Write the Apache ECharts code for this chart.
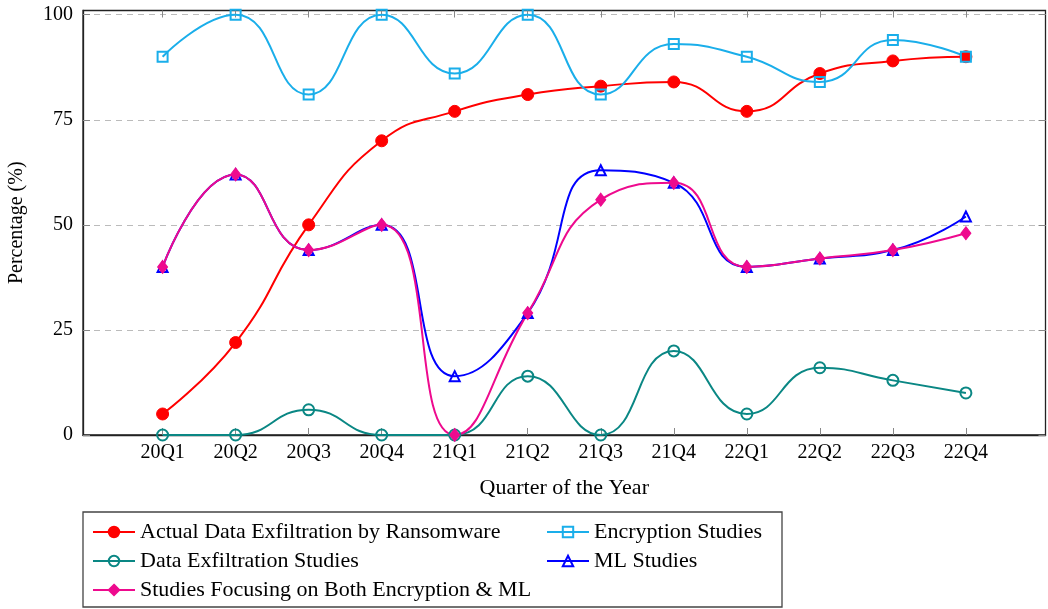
<!DOCTYPE html>
<html>
<head>
<meta charset="utf-8">
<script src="https://cdn.jsdelivr.net/npm/echarts@6/dist/echarts.min.js"></script>
<style>
  html, body { margin: 0; padding: 0; background: #fff; }
  #chart { width: 1048px; height: 609px; }
</style>
</head>
<body>
<div id="chart"></div>
<script>
// Quarters on the horizontal axis
const quarters = ['20Q1', '20Q2', '20Q3', '20Q4', '21Q1', '21Q2', '21Q3', '21Q4', '22Q1', '22Q2', '22Q3', '22Q4'];
const yTicks = [0, 25, 50, 75, 100];

// Percentages per quarter
const actualExfiltration = [5, 22, 50, 70, 77, 81, 83, 84, 77, 86, 89, 90];
const encryptionStudies  = [90, 100, 81, 100, 86, 100, 81, 93, 90, 84, 94, 90];
const exfiltrationStudies = [0, 0, 6, 0, 0, 14, 0, 20, 5, 16, 13, 10];
const mlStudies          = [40, 62, 44, 50, 14, 29, 63, 60, 40, 42, 44, 52];
const bothStudies        = [40, 62, 44, 50, 0, 29, 56, 60, 40, 42, 44, 48];

const FONT = '"Liberation Serif", "DejaVu Serif", serif';
const tickIdx = quarters.map((q, i) => i);

function pairs(arr) { return arr.map((v, i) => [i, v]); }

function lineSeries(name, data, color, symbol, size, filled) {
  return {
    name: name,
    type: 'line',
    data: pairs(data),
    smooth: 0.5,
    symbol: symbol,
    symbolSize: size,
    lineStyle: { color: color, width: 2 },
    itemStyle: filled
      ? { color: color, borderColor: color, borderWidth: 1 }
      : { color: 'rgba(255,255,255,0)', borderColor: color, borderWidth: 2 },
    emphasis: { disabled: true },
    animation: false
  };
}

const chart = echarts.init(document.getElementById('chart'), null, { renderer: 'canvas' });

const sharedX = { type: 'value', min: -1.09, max: 12.09, gridIndex: 0 };
const sharedY = { type: 'value', min: 0, max: 101, gridIndex: 0 };
const tickStyle = { color: '#888', width: 1 };

chart.setOption({
  animation: false,
  grid: {
    left: 83, right: 2.5, top: 10.5, bottom: 174,
    outerBoundsMode: 'none',
    containLabel: false,
    show: true, borderColor: '#222', borderWidth: 1.3, backgroundColor: 'transparent'
  },
  xAxis: [
    Object.assign({}, sharedX, {
      position: 'bottom',
      name: 'Quarter of the Year',
      nameLocation: 'middle',
      nameGap: 42,
      nameTextStyle: { fontFamily: FONT, fontSize: 22, color: '#000' },
      axisLine: { show: true, onZero: false, lineStyle: { color: '#222', width: 1.3 } },
      axisTick: { show: true, inside: true, length: 7, customValues: tickIdx, lineStyle: tickStyle },
      axisLabel: {
        show: true, customValues: tickIdx, margin: 8,
        fontFamily: FONT, fontSize: 20, color: '#000',
        formatter: v => quarters[Math.round(v)]
      },
      splitLine: { show: false }
    }),
    Object.assign({}, sharedX, {
      position: 'top',
      axisLine: { show: false, onZero: false },
      axisTick: { show: true, inside: true, length: 7, customValues: tickIdx, lineStyle: tickStyle },
      axisLabel: { show: false },
      splitLine: { show: false }
    })
  ],
  yAxis: [
    Object.assign({}, sharedY, {
      position: 'left',
      name: 'Percentage (%)',
      nameLocation: 'middle',
      nameGap: 56,
      nameRotate: 90,
      nameTextStyle: { fontFamily: FONT, fontSize: 20, color: '#000' },
      axisLine: { show: true, onZero: false, lineStyle: { color: '#222', width: 1.3 } },
      axisTick: { show: true, inside: true, length: 7, customValues: yTicks, lineStyle: tickStyle },
      axisLabel: {
        show: true, customValues: yTicks, margin: 10,
        fontFamily: FONT, fontSize: 20, color: '#000'
      },
      splitLine: { show: true, lineStyle: { color: '#bbb', width: 1, type: [6, 5] } }
    }),
    Object.assign({}, sharedY, {
      position: 'right',
      axisLine: { show: false, onZero: false },
      axisTick: { show: true, inside: true, length: 7, customValues: yTicks, lineStyle: tickStyle },
      axisLabel: { show: false },
      splitLine: { show: false }
    })
  ],
  legend: [
    {
      orient: 'vertical',
      left: 92, top: 521,
      padding: 0,
      itemWidth: 42, itemHeight: 13, itemGap: 7,
      textStyle: { fontFamily: FONT, fontSize: 22, color: '#000', lineHeight: 22 },
      selectedMode: false,
      data: ['Actual Data Exfiltration by Ransomware', 'Data Exfiltration Studies', 'Studies Focusing on Both Encryption & ML']
    },
    {
      orient: 'vertical',
      left: 546, top: 521,
      padding: 0,
      itemWidth: 42, itemHeight: 13, itemGap: 7,
      textStyle: { fontFamily: FONT, fontSize: 22, color: '#000', lineHeight: 22 },
      selectedMode: false,
      data: ['Encryption Studies', 'ML Studies']
    }
  ],
  graphic: [
    {
      type: 'rect',
      shape: { x: 83, y: 512, width: 699, height: 95 },
      style: { fill: 'transparent', stroke: '#444', lineWidth: 1.3 },
      silent: true
    }
  ],
  series: [
    lineSeries('Actual Data Exfiltration by Ransomware', actualExfiltration, '#ff0000', 'circle', 12, true),
    lineSeries('Encryption Studies', encryptionStudies, '#1aaeea', 'rect', 10, false),
    lineSeries('Data Exfiltration Studies', exfiltrationStudies, '#0a8784', 'circle', 11, false),
    lineSeries('ML Studies', mlStudies, '#0000ff', 'triangle', 10, false),
    lineSeries('Studies Focusing on Both Encryption & ML', bothStudies, '#ee0a8e', 'diamond', [10, 13], true)
  ]
});
</script>
</body>
</html>
